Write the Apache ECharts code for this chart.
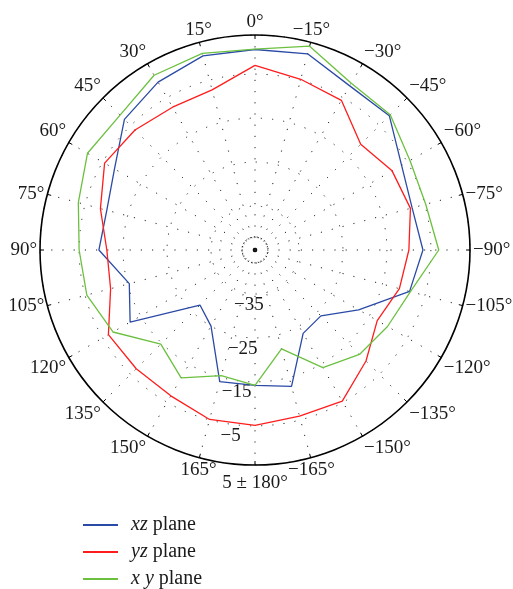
<!DOCTYPE html>
<html><head><meta charset="utf-8">
<script src="https://cdn.jsdelivr.net/npm/echarts@6/dist/echarts.min.js"></script>
<style>html,body{margin:0;padding:0;background:#fff}#c{width:513px;height:589px}</style>
</head><body><div id="c"></div>
<script>
// angles in degrees, 0 at top, positive counter-clockwise
const angles = [0,15,30,45,60,75,90,105,120,135,150,165,180,-165,-150,-135,-120,-105,-90,-75,-60,-45,-30,-15];
const xzPlane = [0.6,0.7,-0.9,-3.0,-8.1,-10.1,-9.5,-15.4,-12.2,-27.3,-25.0,-14.0,-14.2,-12.9,-23.1,-23.8,-17.8,-8.6,-6.8,-8.0,-6.5,-1.8,-1.9,1.2];
const yzPlane = [-3.0,-7.3,-7.5,-6.4,-5.5,-8.6,-11.3,-11.0,-6.5,-6.8,-6.7,-5.1,-5.1,-5.9,-5.3,-9.3,-12.9,-11.0,-10.0,-8.4,-9.0,-11.0,-5.7,-4.8];
const xyPlane = [0.7,1.3,0.9,-1.6,-1.0,-3.4,-5.0,-5.4,-7.7,-14.7,-11.4,-15.4,-14.2,-21.7,-14.1,-11.4,-10.2,-8.4,-3.2,-4.8,-4.3,-1.5,-1.2,3.0];
const seriesNames = ['xz plane','yz plane','xy plane'];
const radialMin = -45, radialMax = 3.9, radialStep = 10;
const innerRing = -42;

const FONT = 'Liberation Serif';
const LABEL_SPOKE = 262; // math angle of the spoke carrying the radial labels (8 deg off the bottom)
function toAxis(t){ return ((t % 360) + 360) % 360; }
function angleLabel(v){
  if (v >= 360) return '';
  if (v === 180) return '{b|5 \u00b1 180\u00b0}';
  if (v > 180) return '\u2212' + (360 - v) + '\u00b0';
  return v + '\u00b0';
}
function build(vals){
  const d = angles.map((a,i)=>[vals[i], toAxis(a)]);
  d.push(d[0]);
  return d;
}
const dotted = {color:'#222', width:1, type:[1.2,10]};
const chart = echarts.init(document.getElementById('c'));
chart.setOption({
  animation:false,
  textStyle:{fontFamily:FONT},
  polar:[{center:[255,250], radius:215},{center:[255,250], radius:215}],
  angleAxis:[{
    polarIndex:0, type:'value', min:0, max:360, interval:15, startAngle:90, clockwise:false,
    axisLine:{show:true, lineStyle:{color:'#000', width:1.6}},
    axisTick:{show:true, inside:true, length:4, lineStyle:{color:'#000', width:1}},
    axisLabel:{formatter:angleLabel, margin:3, fontSize:19, color:'#1a1a1a', fontFamily:FONT,
      rich:{b:{fontSize:19, fontFamily:FONT, color:'#1a1a1a', padding:[6,0,0,0]}}},
    splitLine:{show:true, lineStyle:dotted}
  },{
    polarIndex:1, type:'value', min:0, max:360, startAngle:LABEL_SPOKE, clockwise:false,
    axisLine:{show:false}, axisTick:{show:false}, axisLabel:{show:false}, splitLine:{show:false}
  }],
  radiusAxis:[{
    polarIndex:0, type:'value', min:radialMin, max:radialMax, interval:radialStep,
    axisLine:{show:false}, axisTick:{show:false}, axisLabel:{show:false},
    splitLine:{show:true, lineStyle:dotted}
  },{
    polarIndex:1, type:'value', min:radialMin, max:radialMax, interval:radialStep,
    axisLine:{show:false}, axisTick:{show:false}, splitLine:{show:false},
    axisLabel:{formatter:function(v){ if(v<=radialMin||v>=radialMax||v>0) return ''; return (v<0?'\u2212':'')+Math.abs(v); },
      fontSize:19, color:'#1a1a1a', fontFamily:FONT, margin:0, align:'center', verticalAlign:'top', padding:[2,0,0,0]}
  }],
  legend:{
    orient:'vertical', left:82, top:515, padding:0, itemWidth:35, itemHeight:2, itemGap:7,
    data:seriesNames,
    formatter:function(n){ const p=n.split(' '); return '{i|'+p[0].split('').join(p[0]==='xy'?' ':'')+'} '+p[1]; },
    textStyle:{fontFamily:FONT, fontSize:20, lineHeight:20, color:'#1a1a1a', padding:[0,0,0,8],
      rich:{i:{fontStyle:'italic', fontFamily:FONT, fontSize:20, lineHeight:20, color:'#1a1a1a'}}}
  },
  series:[
    {name:seriesNames[0], type:'line', coordinateSystem:'polar', polarIndex:0, symbol:'none', data:build(xzPlane), lineStyle:{color:'#2a4aa6', width:1.3}, itemStyle:{color:'#2a4aa6'}},
    {name:seriesNames[1], type:'line', coordinateSystem:'polar', polarIndex:0, symbol:'none', data:build(yzPlane), lineStyle:{color:'#ff1c1c', width:1.3}, itemStyle:{color:'#ff1c1c'}},
    {name:seriesNames[2], type:'line', coordinateSystem:'polar', polarIndex:0, symbol:'none', data:build(xyPlane), lineStyle:{color:'#6cc040', width:1.3}, itemStyle:{color:'#6cc040'}},
    {name:'ring', type:'line', coordinateSystem:'polar', polarIndex:0, symbol:'none', silent:true,
      data:build(angles.map(()=>innerRing)), lineStyle:{color:'#222', width:1, type:[1.2,3]}},
    {name:'origin', type:'scatter', coordinateSystem:'polar', polarIndex:0, silent:true, symbolSize:4,
      data:[[radialMin,0]], itemStyle:{color:'#000'}}
  ]
});
</script></body></html>
